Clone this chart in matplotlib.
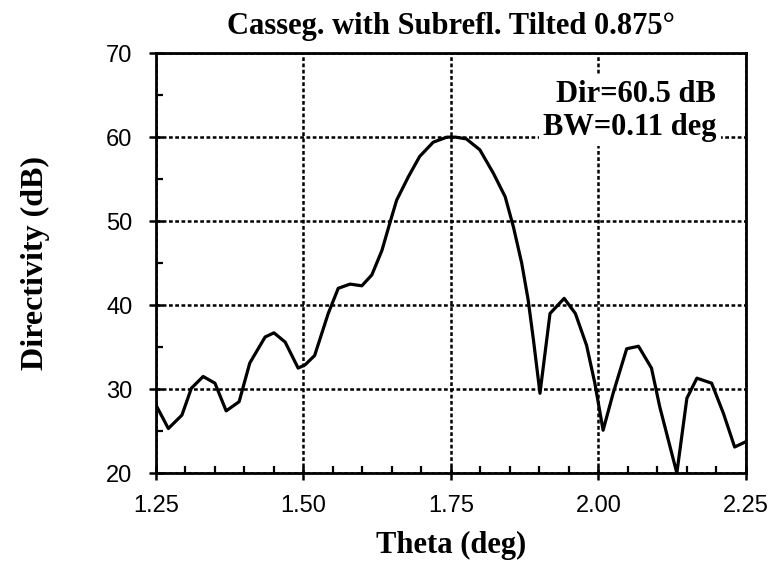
import matplotlib
matplotlib.use("Agg")
import matplotlib.pyplot as plt
from matplotlib.ticker import MultipleLocator

# pattern
theta = [1.250, 1.271, 1.294, 1.310, 1.330, 1.350, 1.369, 1.391, 1.409, 1.435,
         1.450, 1.469, 1.491, 1.503, 1.519, 1.542, 1.559, 1.579, 1.599, 1.616,
         1.633, 1.647, 1.658, 1.678, 1.697, 1.720, 1.743, 1.758, 1.776, 1.799,
         1.822, 1.842, 1.856, 1.870, 1.881, 1.890, 1.901, 1.918, 1.942, 1.961,
         1.980, 1.994, 2.008, 2.025, 2.048, 2.068, 2.090, 2.104, 2.133, 2.150,
         2.167, 2.192, 2.212, 2.231, 2.249]
directivity = [28.1, 25.3, 26.9, 30.1, 31.5, 30.7, 27.4, 28.5, 33.1, 36.2,
               36.7, 35.6, 32.5, 32.9, 34.0, 39.0, 42.0, 42.5, 42.3, 43.6,
               46.5, 49.9, 52.5, 55.3, 57.7, 59.4, 60.0, 60.0, 59.8, 58.5,
               55.7, 52.9, 49.3, 45.0, 40.6, 35.8, 29.5, 39.0, 40.8, 39.0,
               35.2, 30.7, 25.1, 29.5, 34.8, 35.1, 32.5, 27.9, 20.0, 28.9,
               31.3, 30.7, 27.1, 23.1, 23.7]
xticks = [1.25, 1.50, 1.75, 2.00, 2.25]
yticks = [20, 30, 40, 50, 60, 70]

serif = ["Liberation Serif", "DejaVu Serif"]
sans = ["Liberation Sans", "DejaVu Sans"]

fig = plt.figure(figsize=(7.81, 5.72), dpi=100)
ax = fig.add_axes([0.1997, 0.173, 0.7553, 0.734])

ax.plot(theta, directivity, color="black", lw=2.3, zorder=3)

ax.set_xlim(1.25, 2.25)
ax.set_ylim(20, 70)
ax.set_xticks(xticks)
ax.set_xticklabels(["%.2f" % t for t in xticks], family=sans, fontsize=17)
ax.set_yticks(yticks)
ax.set_yticklabels([str(t) for t in yticks], family=sans, fontsize=17)
ax.xaxis.set_minor_locator(MultipleLocator(0.05))
ax.yaxis.set_minor_locator(MultipleLocator(5))
ax.tick_params(which="major", direction="inout", length=10, width=1.8)
ax.tick_params(axis="x", which="major", pad=11)
ax.tick_params(axis="y", which="major", pad=12)
ax.tick_params(which="minor", direction="in", length=5, width=1.6)

for s in ax.spines.values():
    s.set_linewidth(2)
ax.grid(True, which="major", color="black", ls=(0, (1.5, 1)), lw=1.8, zorder=1)

ax.set_title("Casseg. with Subrefl. Tilted 0.875°", family=serif,
             fontsize=22, fontweight="bold", pad=14)
ax.set_xlabel("Theta (deg)", family=serif, fontsize=22, fontweight="bold", labelpad=10)
ax.set_ylabel("Directivity (dB)", family=serif, fontsize=23, fontweight="bold", labelpad=40)

ax.text(0.95, 0.935, "Dir=60.5 dB\nBW=0.11 deg", transform=ax.transAxes,
        ha="right", va="top", family=serif, fontsize=22, fontweight="bold",
        linespacing=1.15, zorder=4,
        bbox=dict(facecolor="white", edgecolor="none", pad=3))

fig.savefig("out.png", dpi=100)
